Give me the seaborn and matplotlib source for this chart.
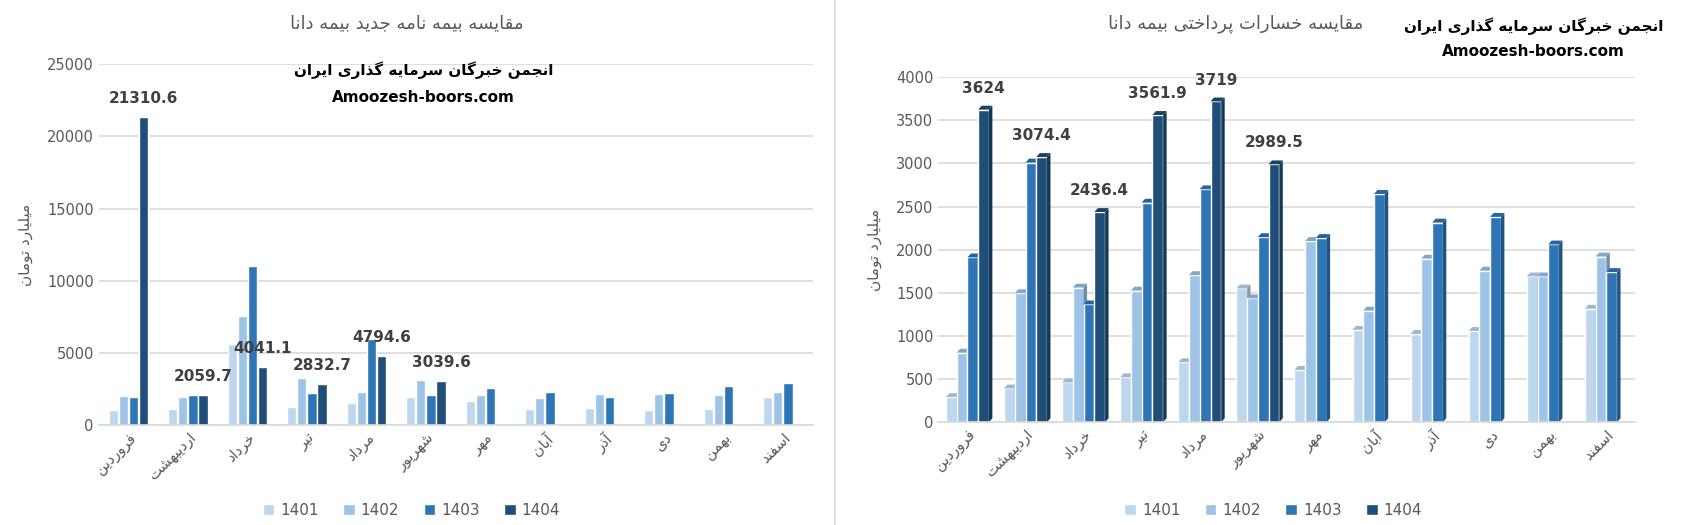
import unicodedata
import numpy as np
import pandas as pd
import matplotlib
matplotlib.use('Agg')
import matplotlib.pyplot as plt
import matplotlib.colors as mcolors
from matplotlib.patches import Polygon
import seaborn as sns

# ---- data ----
months = ['فروردین', 'اردیبهشت', 'خرداد', 'تیر', 'مرداد', 'شهریور',
          'مهر', 'آبان', 'آذر', 'دی', 'بهمن', 'اسفند']
years = ['1401', '1402', '1403', '1404']

policy_1401 = [1040, 1130, 5650, 1270, 1520, 1960, 1680, 1130, 1200, 1060, 1130, 1960]
policy_1402 = [2030, 1960, 7590, 3250, 2300, 3160, 2100, 1890, 2170, 2170, 2100, 2300]
policy_1403 = [1960, 2080, 11000, 2260, 5950, 2080, 2580, 2300, 1960, 2240, 2720, 2930]
policy_1404 = [21310.6, 2059.7, 4041.1, 2832.7, 4794.6, 3039.6,
               np.nan, np.nan, np.nan, np.nan, np.nan, np.nan]

claims_1401 = [290, 390, 460, 520, 695, 1550, 605, 1070, 1022, 1057, 1690, 1315]
claims_1402 = [805, 1495, 1560, 1525, 1705, 1435, 2100, 1293, 1896, 1757, 1690, 1920]
claims_1403 = [1910, 3010, 1365, 2545, 2700, 2145, 2135, 2646, 2314, 2380, 2060, 1740]
claims_1404 = [3624, 3074.4, 2436.4, 3561.9, 3719, 2989.5,
               np.nan, np.nan, np.nan, np.nan, np.nan, np.nan]

title_policy = 'مقایسه بیمه نامه جدید بیمه دانا'
title_claims = 'مقایسه خسارات پرداختی بیمه دانا'
watermark_fa = 'انجمن خبرگان سرمایه گذاری ایران'
watermark_en = 'Amoozesh-boors.com'
y_label = 'میلیارد تومان'

colors = ['#BDD7EE', '#9DC3E6', '#2E75B6', '#1F4E79']

# ---- minimal Persian shaping (matplotlib has no Arabic shaping) ----
# (isolated, final, initial, medial)
FORMS = {
    'ا': ('\uFE8D', '\uFE8E', None, None),
    'آ': ('\uFE81', '\uFE82', None, None),
    'ب': ('\uFE8F', '\uFE90', '\uFE91', '\uFE92'),
    'پ': ('\uFB56', '\uFB57', '\uFB58', '\uFB59'),
    'ت': ('\uFE95', '\uFE96', '\uFE97', '\uFE98'),
    'ج': ('\uFE9D', '\uFE9E', '\uFE9F', '\uFEA0'),
    'خ': ('\uFEA5', '\uFEA6', '\uFEA7', '\uFEA8'),
    'د': ('\uFEA9', '\uFEAA', None, None),
    'ذ': ('\uFEAB', '\uFEAC', None, None),
    'ر': ('\uFEAD', '\uFEAE', None, None),
    'ز': ('\uFEAF', '\uFEB0', None, None),
    'س': ('\uFEB1', '\uFEB2', '\uFEB3', '\uFEB4'),
    'ش': ('\uFEB5', '\uFEB6', '\uFEB7', '\uFEB8'),
    'ف': ('\uFED1', '\uFED2', '\uFED3', '\uFED4'),
    'ق': ('\uFED5', '\uFED6', '\uFED7', '\uFED8'),
    'ک': ('\uFB8E', '\uFB8F', '\uFB90', '\uFB91'),
    'گ': ('\uFB92', '\uFB93', '\uFB94', '\uFB95'),
    'ل': ('\uFEDD', '\uFEDE', '\uFEDF', '\uFEE0'),
    'م': ('\uFEE1', '\uFEE2', '\uFEE3', '\uFEE4'),
    'ن': ('\uFEE5', '\uFEE6', '\uFEE7', '\uFEE8'),
    'و': ('\uFEED', '\uFEEE', None, None),
    'ه': ('\uFEE9', '\uFEEA', '\uFEEB', '\uFEEC'),
    'ی': ('\uFBFC', '\uFBFD', '\uFBFE', '\uFBFF'),
}


def shape(text):
    s = unicodedata.normalize('NFC', text)
    out = []
    for i, ch in enumerate(s):
        if ch not in FORMS:
            out.append(ch)
            continue
        f = FORMS[ch]
        prev = s[i - 1] if i > 0 else ''
        nxt = s[i + 1] if i + 1 < len(s) else ''
        join_prev = prev in FORMS and FORMS[prev][2] is not None
        join_next = f[2] is not None and nxt in FORMS
        if join_prev and join_next:
            out.append(f[3])
        elif join_prev:
            out.append(f[1])
        elif join_next:
            out.append(f[2])
        else:
            out.append(f[0])
    return ''.join(reversed(out))


def long_frame(series):
    df = pd.DataFrame(dict(zip(years, series)))
    df['month'] = months
    return df.melt(id_vars='month', var_name='year', value_name='value').dropna()


policy_df = long_frame([policy_1401, policy_1402, policy_1403, policy_1404])
claims_df = long_frame([claims_1401, claims_1402, claims_1403, claims_1404])

sns.set_theme(style='white')
plt.rcParams['font.family'] = ['DejaVu Sans']

fig = plt.figure(figsize=(17, 5.25), dpi=100)
ax1 = fig.add_axes([0.058, 0.19, 0.42, 0.688])
ax2 = fig.add_axes([0.552, 0.196, 0.41, 0.657])

grey = '#595959'


def style_axes(ax, ymax, step):
    ax.set_ylim(0, ymax)
    ax.set_yticks(np.arange(0, ymax + 1, step))
    ax.yaxis.grid(True, color='#D9D9D9', linewidth=1.2)
    ax.set_axisbelow(True)
    for side in ['top', 'right', 'left']:
        ax.spines[side].set_visible(False)
    ax.spines['bottom'].set_color('#D9D9D9')
    ax.spines['bottom'].set_linewidth(1.2)
    ax.tick_params(axis='both', length=0, colors=grey, labelsize=10.5)
    ax.set_xticks(range(len(months)))
    ax.set_xticklabels([shape(m) for m in months], rotation=45, ha='right',
                       rotation_mode='anchor', fontsize=10.5, color=grey)
    ax.set_xlim(-0.5, len(months) - 0.5)
    ax.set_xlabel('')
    ax.set_ylabel(shape(y_label), color=grey, fontsize=11, labelpad=10)


# ---- left: new policies ----
sns.barplot(data=policy_df, x='month', y='value', hue='year', hue_order=years,
            palette=colors, width=0.68, gap=0.08, saturation=1, errorbar=None,
            order=months, ax=ax1)
style_axes(ax1, 25000, 5000)
handles, labels = ax1.get_legend_handles_labels()
ax1.get_legend().remove()
ax1.bar_label(ax1.containers[3], labels=['{:g}'.format(v) for v in policy_1404[:6]],
              padding=8, fontsize=11, fontweight='bold', color='#404040')

# ---- right: paid claims (pseudo 3D columns) ----
sns.barplot(data=claims_df, x='month', y='value', hue='year', hue_order=years,
            palette=colors, width=0.74, gap=0, saturation=1, errorbar=None,
            order=months, ax=ax2)
style_axes(ax2, 4000, 500)
ax2.get_legend().remove()

for k, cont in enumerate(ax2.containers):
    base = np.array(mcolors.to_rgb(colors[k]))
    side = base * 0.72
    top = base * 0.85
    for bar in cont:
        h = bar.get_height()
        if np.isnan(h):
            continue
        z = 2 + k * 0.1
        bar.set_zorder(z)
        x0 = bar.get_x()
        x1 = x0 + bar.get_width()
        dx = bar.get_width() * 0.32
        dy = 45
        ax2.add_patch(Polygon([(x1, 0), (x1, h), (x1 + dx, h + dy), (x1 + dx, dy)],
                              closed=True, facecolor=side, edgecolor='none', zorder=z))
        ax2.add_patch(Polygon([(x0, h), (x1, h), (x1 + dx, h + dy), (x0 + dx, h + dy)],
                              closed=True, facecolor=top, edgecolor='none', zorder=z))

ax2.bar_label(ax2.containers[3], labels=['{:g}'.format(v) for v in claims_1404[:6]],
              padding=10, fontsize=11, fontweight='bold', color='#404040')

# ---- titles, watermarks, legends ----
fig.text(0.239, 0.955, shape(title_policy), ha='center', va='center', fontsize=13, color=grey)
fig.text(0.727, 0.955, shape(title_claims), ha='center', va='center', fontsize=13, color=grey)

fig.text(0.249, 0.866, shape(watermark_fa), ha='center', va='center', fontsize=11,
         fontweight='bold', color='black')
fig.text(0.249, 0.815, watermark_en, ha='center', va='center', fontsize=11,
         fontweight='bold', color='black')
fig.text(0.902, 0.950, shape(watermark_fa), ha='center', va='center', fontsize=11,
         fontweight='bold', color='black')
fig.text(0.902, 0.902, watermark_en, ha='center', va='center', fontsize=11,
         fontweight='bold', color='black')

for cx in [0.242, 0.749]:
    fig.legend(handles, labels, loc='center', bbox_to_anchor=(cx, 0.028), ncol=4,
               frameon=False, handlelength=0.75, handleheight=0.75, handletextpad=0.4,
               columnspacing=1.6, fontsize=11, labelcolor=grey)

# divider between the two charts
fig.add_artist(plt.Line2D([0.491, 0.491], [0.0, 1.0], color='#D9D9D9', linewidth=1.2))

fig.savefig('out.png', dpi=100, facecolor='white')
